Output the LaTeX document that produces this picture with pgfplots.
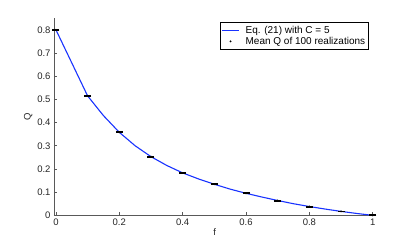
\documentclass[border=0pt]{standalone}
\usepackage{pgfplots}
\pgfplotsset{compat=1.18}
\usepackage{fontspec}
\setmainfont{Liberation Sans}
\definecolor{mblue}{rgb}{0.1,0.2,1}
\begin{document}
\begin{tikzpicture}
\begin{axis}[
  name=ax,
  scale only axis,
  width=321.6pt, height=197.2pt,
  xmin=-0.006, xmax=1.009,
  ymin=0, ymax=0.85,
  axis lines*=left,
  axis line style={-, draw=black!65, line width=0.7pt},
  tick align=inside,
  major tick length=3pt,
  tick style={black!65, line width=0.6pt},
  xtick={0,0.2,0.4,0.6,0.8,1},
  ytick={0,0.1,0.2,0.3,0.4,0.5,0.6,0.7,0.8},
  xticklabels={0,0.2,0.4,0.6,0.8,1},
  yticklabels={0,0.1,0.2,0.3,0.4,0.5,0.6,0.7,0.8},
  ticklabel style={font=\fontsize{9.5}{10}\selectfont, text=black!85},
  xtick pos=bottom, ytick pos=left,
  xlabel={f}, ylabel={Q},
  label style={font=\fontsize{9.5}{10}\selectfont, text=black!85},
  xlabel style={yshift=4pt},
  ylabel style={yshift=-2pt},
  legend style={at={(rel axis cs:0.979,0.98)}, anchor=north east,
    font=\fontsize{10}{11}\selectfont, column sep=4pt,
    inner sep=1.5pt, row sep=-1.5pt, cells={anchor=west}},
  legend cell align=left,
  clip=false,
]
\addplot[mblue, line width=1.1pt] coordinates {
(0,0.8) (0.1,0.515) (0.15,0.43) (0.2,0.358) (0.25,0.30) (0.3,0.253)
(0.35,0.215) (0.4,0.183) (0.45,0.157) (0.5,0.134) (0.55,0.113) (0.6,0.095)
(0.65,0.079) (0.7,0.064) (0.75,0.050) (0.8,0.038) (0.85,0.027) (0.9,0.017)
(0.95,0.008) (1,0)};
\addlegendentry{Eq. (21) with C = 5}
\addplot[black, only marks, mark=*, mark size=0.7pt,
  error bars/.cd, y dir=both, y explicit,
  error mark options={black, mark size=3.5pt, line width=0.8pt, rotate=90},
  error bar style={black, line width=0.8pt}]
 coordinates {
(0,0.8) +- (0,0.002)
(0.1,0.515) +- (0,0.002)
(0.2,0.358) +- (0,0.002)
(0.3,0.253) +- (0,0.002)
(0.4,0.183) +- (0,0.002)
(0.5,0.134) +- (0,0.002)
(0.6,0.095) +- (0,0.002)
(0.7,0.064) +- (0,0.002)
(0.8,0.038) +- (0,0.002)
(0.9,0.017) +- (0,0.002)
(1,0.0) +- (0,0.002)
};
\addlegendentry{Mean Q of 100 realizations}
\end{axis}
\path[use as bounding box] ([xshift=-54pt,yshift=-26.6pt]ax.south west) rectangle ([xshift=39.4pt,yshift=18.15pt]ax.north east);
\end{tikzpicture}
\end{document}
